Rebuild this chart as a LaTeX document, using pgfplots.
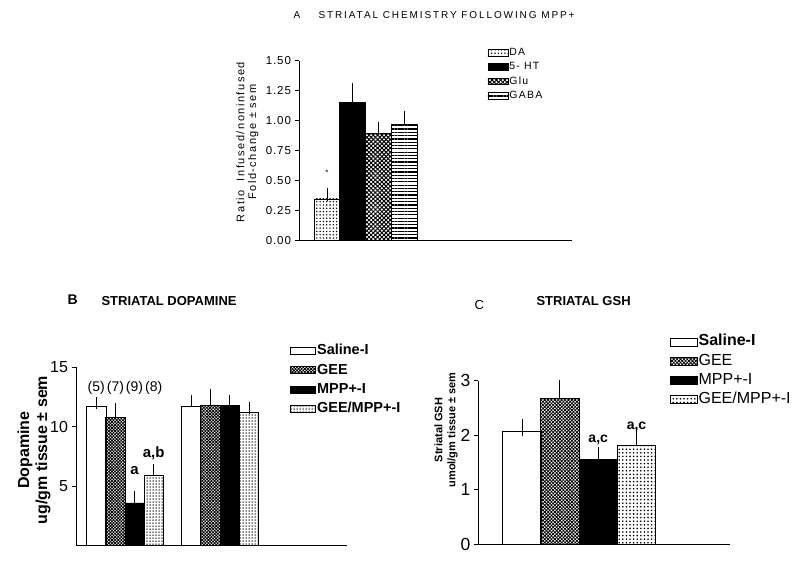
\documentclass[border=0pt]{standalone}
\usepackage{fontspec}
\setmainfont{Liberation Sans}
\newfontfamily\spacedfont[LetterSpace=19]{Liberation Sans}
\newfontfamily\spacedlab[LetterSpace=14]{Liberation Sans}
\newfontfamily\spacedleg[LetterSpace=12]{Liberation Sans}
\newfontfamily\spacedtick[LetterSpace=8]{Liberation Sans}
\usepackage{pgfplots}
\pgfplotsset{compat=1.18}
\usetikzlibrary{patterns.meta}
\pgfplotsset{
  mybars/.style={
    scale only axis,
    axis x line*=bottom, axis y line*=left,
    axis line style={-, line width=1pt},
    xtick=\empty, tick align=outside,
    major tick length=4.5pt,
    ytick style={line width=1pt, black},
    ybar, bar shift=0pt,
    /pgf/number format/assume math mode=true,
    error bars/y dir=plus, error bars/y explicit,
    error bars/error mark=|,
    error bars/error bar style={line width=1pt, black},
    legend cell align=left,
  },
}
\begin{document}
\begin{tikzpicture}[x=1pt,y=1pt]
% ---------------- Panel A ----------------
\begin{axis}[mybars, at={(299pt,327pt)}, anchor=south west,
  width=273pt, height=180pt, xmin=0, xmax=273, ymin=0, ymax=1.5,
  ytick={0,0.25,0.5,0.75,1,1.25,1.5},
  yticklabel style={font=\spacedtick\fontsize{11.5}{13}\selectfont, /pgf/number format/.cd, fixed, fixed zerofill, precision=2},
  bar width=26,
  error bars/error mark options={rotate=90, mark size=6.5pt, line width=1pt},
  legend style={at={(0.69,1.08)}, anchor=north west, draw=none, fill=none,
    font=\spacedleg\fontsize{10.5}{11}\selectfont, row sep=2.4pt, inner sep=0pt,
    nodes={inner sep=1pt, text height=7.5pt, text depth=2.5pt}},
  legend image code/.code={\draw[#1, line width=0.8pt] (0pt,-3.3pt) rectangle (20pt,3.3pt);},
]
\addplot[draw=black, line width=0.8pt, pattern={Dots[distance=3.3pt, radius=0.8pt]}] coordinates {(28,0.35) +- (0,0.04)};
\addlegendentry{DA}
\addplot[draw=black, fill=black] coordinates {(53,1.16) +- (0,0.10)};
\addlegendentry{5- HT}
\addplot[draw=black, line width=0.8pt, pattern={Hatch[angle=45, distance=3pt, line width=1pt]}] coordinates {(79,0.895) +- (0,0.04)};
\addlegendentry{Glu}
\addplot[draw=black, line width=0.8pt, pattern={Lines[angle=0, distance=3.3pt, line width=1.2pt]}] coordinates {(105,0.97) +- (0,0.06)};
\addlegendentry{GABA}
\node[font=\fontsize{8}{9}\selectfont] at (axis cs:28,0.57) {*};
\end{axis}
\node[anchor=west, font=\spacedfont\fontsize{10}{12}\selectfont] at (290,553) {A};
\node[anchor=west, font=\spacedfont\fontsize{10}{12}\selectfont] at (315,553) {STRIATAL CHEMISTRY FOLLOWING MPP+};
\node[rotate=90, align=center, font=\spacedlab\fontsize{11}{11.8}\selectfont] at (247.5,426) {Ratio\ \ Infused/noninfused\\Fold-change ± sem};
% ---------------- Panel B ----------------
\begin{axis}[mybars, at={(76pt,22.3pt)}, anchor=south west,
  width=271pt, height=178.4pt, xmin=0, xmax=271, ymin=0, ymax=15,
  ytick={5,10,15},
  yticklabel style={font=\fontsize{16}{18}\selectfont},
  bar width=19.3,
  error bars/error mark options={rotate=90, mark size=6pt, line width=1pt},
  legend style={at={(0.79,1.136)}, anchor=north west, draw=none, fill=none,
    font=\bfseries\fontsize{14.5}{16}\selectfont, row sep=3.8pt, inner sep=0pt,
    nodes={inner sep=1pt, text height=10.5pt, text depth=3pt}},
  legend image code/.code={\draw[#1, line width=0.8pt] (0pt,-3.5pt) rectangle (25pt,3.5pt);},
]
\addplot[draw=black, line width=0.8pt, fill=white] coordinates {(20.3,11.7) +- (0,0.3) (115.2,11.7) +- (0,0.5)};
\addlegendentry{Saline-I}
\addplot[draw=black, line width=0.8pt, pattern={Hatch[angle=45, distance=2.2pt, line width=0.8pt]}] coordinates {(39.5,10.8) +- (0,0.7) (134.3,11.8) +- (0,0.9)};
\addlegendentry{GEE}
\addplot[draw=black, fill=black] coordinates {(58.5,3.6) +- (0,0.5) (153.7,11.8) +- (0,0.4)};
\addlegendentry{MPP+-I}
\addplot[draw=black, line width=0.8pt, pattern={Dots[distance=3pt, radius=0.75pt]}] coordinates {(77.7,5.9) +- (0,0.5) (173.2,11.2) +- (0,0.4)};
\addlegendentry{GEE/MPP+-I}
\node[font=\fontsize{14}{16}\selectfont] at (axis cs:20.3,13.3) {(5)};
\node[font=\fontsize{14}{16}\selectfont] at (axis cs:39.5,13.3) {(7)};
\node[font=\fontsize{14}{16}\selectfont] at (axis cs:58.5,13.3) {(9)};
\node[font=\fontsize{14}{16}\selectfont] at (axis cs:77.7,13.3) {(8)};
\node[font=\bfseries\fontsize{15}{17}\selectfont] at (axis cs:58.5,6.3) {a};
\node[font=\bfseries\fontsize{15}{17}\selectfont] at (axis cs:77.7,7.8) {a,b};
\node[font=\bfseries\fontsize{14}{16}\selectfont] at (axis cs:37,16.6) {Left};
\node[font=\bfseries\fontsize{14}{16}\selectfont] at (axis cs:128,16.6) {Right};
\end{axis}
\node[anchor=west, font=\bfseries\fontsize{14}{16}\selectfont] at (64,268) {B};
\node[anchor=west, font=\bfseries\fontsize{13}{15}\selectfont] at (98,266.5) {STRIATAL DOPAMINE};
\node[rotate=90, align=center, font=\bfseries\fontsize{16}{18}\selectfont] at (34,118) {Dopamine\\ug/gm tissue ± sem};
% ---------------- Panel C ----------------
\begin{axis}[mybars, at={(478.3pt,23.7pt)}, anchor=south west,
  width=251.7pt, height=163.6pt, xmin=0, xmax=251.7, ymin=0, ymax=3,
  ytick={0,1,2,3},
  yticklabel style={font=\fontsize{17.5}{19}\selectfont},
  bar width=38.3,
  error bars/error mark options={rotate=90, mark size=8.5pt, line width=1pt},
  legend style={at={(0.76,1.29)}, anchor=north west, draw=none, fill=none,
    font=\fontsize{16}{18}\selectfont, row sep=2.2pt, inner sep=0pt,
    nodes={inner sep=1pt, text height=11.5pt, text depth=3.5pt}},
  legend image code/.code={\draw[#1, line width=0.8pt] (0pt,-4pt) rectangle (27pt,4pt);},
]
\addplot[draw=black, line width=0.8pt, fill=white] coordinates {(43.7,2.07) +- (0,0.07)};
\addlegendentry{\textbf{Saline-I}}
\addplot[draw=black, line width=0.8pt, pattern={Hatch[angle=45, distance=2.4pt, line width=0.8pt]}] coordinates {(81.6,2.68) +- (0,0.32)};
\addlegendentry{GEE}
\addplot[draw=black, fill=black] coordinates {(119.9,1.56) +- (0,0.07)};
\addlegendentry{MPP+-I}
\addplot[draw=black, line width=0.8pt, pattern={Dots[distance=3.6pt, radius=0.9pt]}] coordinates {(158.2,1.81) +- (0,0.14)};
\addlegendentry{GEE/MPP+-I}
\node[font=\fontsize{14}{16}\selectfont] at (axis cs:81.6,3.17) {a};
\node[font=\bfseries\fontsize{14}{16}\selectfont] at (axis cs:119.9,1.92) {a,c};
\node[font=\bfseries\fontsize{14}{16}\selectfont] at (axis cs:158.2,2.16) {a,c};
\node[font=\bfseries\fontsize{19}{21}\selectfont] at (axis cs:89.5,3.62) {Left};
\end{axis}
\node[anchor=west, font=\fontsize{13}{15}\selectfont] at (471,263) {C};
\node[anchor=west, font=\bfseries\fontsize{13}{15}\selectfont] at (533,266.5) {STRIATAL GSH};
\node[rotate=90, align=center, font=\bfseries\fontsize{11}{13}\selectfont] at (446,138) {Striatal GSH\\umol/gm tissue ± sem};
\pgfresetboundingbox
\useasboundingbox (0,0) rectangle (800,568);
\end{tikzpicture}
\end{document}
